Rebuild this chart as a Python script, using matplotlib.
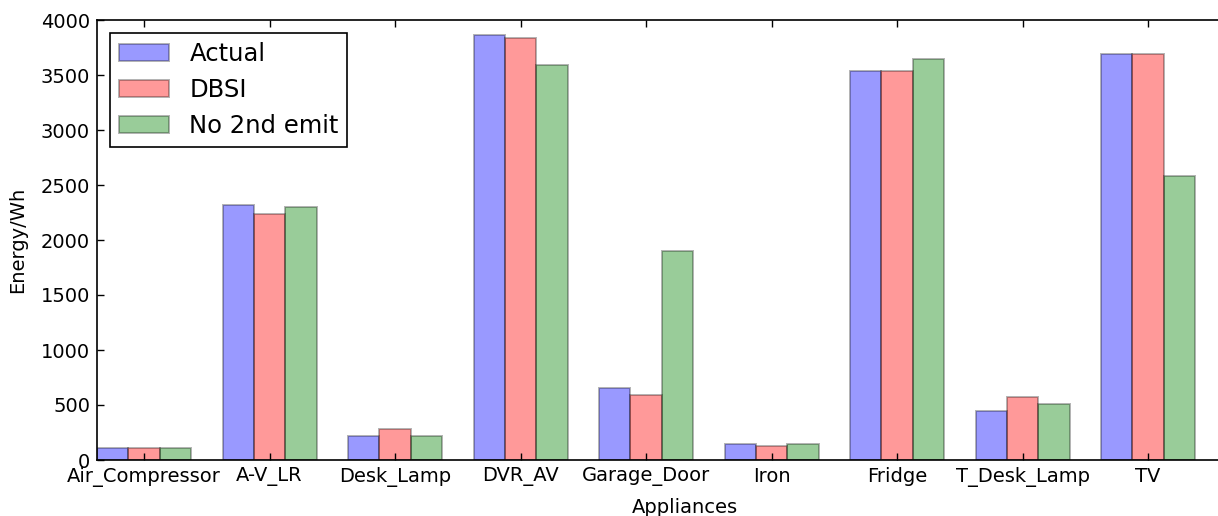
import numpy as np
import matplotlib
matplotlib.use("Agg")
import matplotlib.pyplot as plt

appliances = ["Air_Compressor", "A-V_LR", "Desk_Lamp", "DVR_AV", "Garage_Door",
              "Iron", "Fridge", "T_Desk_Lamp", "TV"]
actual = [105, 2320, 220, 3860, 657, 142, 3540, 450, 3695]
dbsi = [110, 2240, 280, 3840, 592, 130, 3532, 576, 3692]
no_2nd_emit = [105, 2300, 217, 3588, 1900, 142, 3650, 510, 2585]

plt.rcParams['font.family'] = ['DejaVu Sans']

fig = plt.figure(figsize=(12.18, 5.16), dpi=100)
ax = fig.add_axes([97/1218, 56/516, 1176.6/1218, 440/516])

index = np.arange(len(appliances))
bw = 0.25
edge = (0, 0, 0, 0.3)
ax.bar(index - bw, actual, bw, color=(0, 0, 1, 0.4), edgecolor=edge, linewidth=1.4, label='Actual')
ax.bar(index, dbsi, bw, color=(1, 0, 0, 0.4), edgecolor=edge, linewidth=1.4, label='DBSI')
ax.bar(index + bw, no_2nd_emit, bw, color=(0, 0.5, 0, 0.4), edgecolor=edge, linewidth=1.4,
       label='No 2nd emit')

ax.set_xlim(-0.375, 9.0)
ax.set_ylim(0, 4000)
ax.set_yticks(np.arange(0, 4001, 500))
ax.set_xticks(index)
ax.set_xticklabels(appliances)
ax.tick_params(direction='in', top=True, right=True, length=5, width=1, labelsize=14, pad=5)
for s in ax.spines.values():
    s.set_linewidth(1.2)

ax.set_xlabel("Appliances", fontsize=14, labelpad=8)
ax.set_ylabel("Energy/Wh", fontsize=14, labelpad=10)

leg = ax.legend(loc='upper left', fontsize=17.5, fancybox=False, framealpha=1,
                edgecolor='k', borderaxespad=0.55, handlelength=2.05, handletextpad=0.85,
                borderpad=0.35, labelspacing=0.5)
leg.get_frame().set_linewidth(1.2)

fig.savefig("out.png", dpi=100, facecolor='w')
